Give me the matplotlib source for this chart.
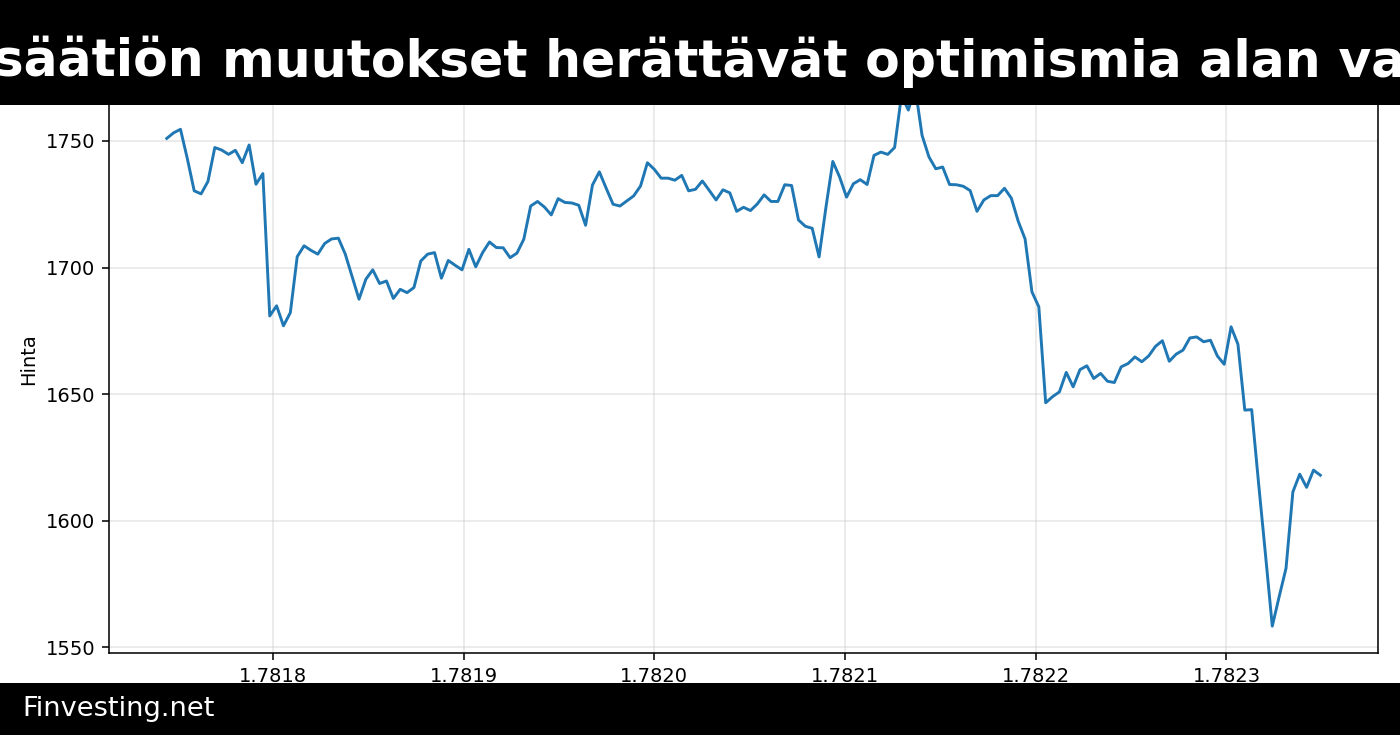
import pandas as pd
import matplotlib.pyplot as plt
from matplotlib.patches import Rectangle

# hourly closes
start_ts = 1781744400
price = [1751.0, 1753.2, 1754.6, 1743.0, 1730.3, 1729.1, 1734.0, 1747.4, 1746.4, 1744.7,
         1746.3, 1741.4, 1748.4, 1732.9, 1737.1, 1680.9, 1684.9, 1677.0, 1682.2, 1704.3,
         1708.6, 1706.8, 1705.3, 1709.5, 1711.3, 1711.6, 1705.3, 1696.4, 1687.5, 1695.4,
         1699.1, 1693.7, 1694.7, 1687.8, 1691.4, 1690.1, 1692.1, 1702.6, 1705.3, 1705.9,
         1695.8, 1702.8, 1700.9, 1699.1, 1707.2, 1700.3, 1705.9, 1710.1, 1707.9, 1707.8,
         1703.9, 1705.7, 1711.2, 1724.3, 1726.1, 1723.9, 1720.8, 1727.2, 1725.7, 1725.5,
         1724.6, 1716.7, 1732.6, 1737.8, 1731.3, 1725.0, 1724.3, 1726.3, 1728.3, 1732.2,
         1741.4, 1738.8, 1735.3, 1735.3, 1734.5, 1736.4, 1730.3, 1730.9, 1734.2, 1730.5,
         1726.7, 1730.7, 1729.5, 1722.2, 1723.8, 1722.5, 1725.1, 1728.7, 1726.1, 1726.1,
         1732.7, 1732.4, 1718.8, 1716.3, 1715.5, 1704.2, 1723.8, 1741.9, 1735.7, 1727.8,
         1733.1, 1734.7, 1732.8, 1744.3, 1745.6, 1744.7, 1747.4, 1768.0, 1762.2, 1771.0,
         1752.2, 1743.7, 1739.0, 1739.7, 1732.8, 1732.7, 1732.1, 1730.4, 1722.2, 1726.7,
         1728.4, 1728.4, 1731.3, 1727.4, 1718.3, 1711.3, 1690.4, 1684.5, 1646.6, 1649.0,
         1650.9, 1658.6, 1652.9, 1659.7, 1661.2, 1656.2, 1658.2, 1655.1, 1654.6, 1660.8,
         1662.1, 1664.7, 1662.8, 1665.1, 1668.9, 1671.1, 1663.0, 1665.8, 1667.4, 1672.2,
         1672.6, 1670.7, 1671.3, 1665.1, 1661.8, 1676.6, 1669.7, 1643.7, 1643.9, 1615.0,
         1587.0, 1558.4, 1570.0, 1581.2, 1611.4, 1618.4, 1613.2, 1620.0, 1618.0]

data = pd.DataFrame({'price': price})
data['ts'] = start_ts + 3600 * data.index

title_head = "Lainsäätiön"
title_tail = "muutokset herättävät optimismia alan vaikuttajissa"

fig = plt.figure(figsize=(10, 5.25), dpi=140)
ax = fig.add_axes([0.0779, 0.1116, 0.9064, 0.80])

ax.plot(data['ts'], data['price'], color='#1f77b4', linewidth=1.5)
ax.set_ylim(1547.8, 1780)
ax.set_ylabel('Hinta')
ax.grid(True, color='#cccccc', alpha=0.5, linewidth=0.8)

# header and footer bars
fig.patches.append(Rectangle((0, 1 - 105 / 735), 1, 105 / 735, transform=fig.transFigure,
                             facecolor='black', edgecolor='none', zorder=10))
fig.patches.append(Rectangle((0, 0), 1, 52 / 735, transform=fig.transFigure,
                             facecolor='black', edgecolor='none', zorder=10))
# long title runs past the banner on both sides
title_y = 1 - 62 / 735
fig.text(204 / 1400, title_y, title_head, color='white', fontsize=26, fontweight='bold',
         ha='right', va='center', zorder=11)
fig.text(222 / 1400, title_y, title_tail, color='white', fontsize=26, fontweight='bold',
         ha='left', va='center', zorder=11)
fig.text(22 / 1400, 26 / 735, 'Finvesting.net', color='white', fontsize=14,
         ha='left', va='center', zorder=11)

plt.savefig('out.png', dpi=140)
plt.close()
